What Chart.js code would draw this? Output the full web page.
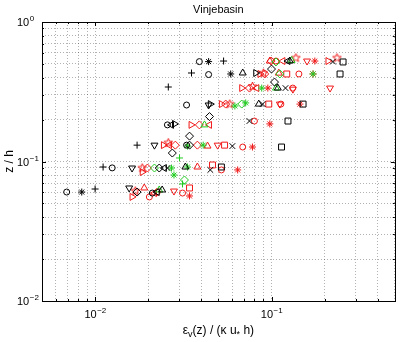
<!DOCTYPE html>
<html>
<head>
<meta charset="utf-8">
<script src="https://cdn.jsdelivr.net/npm/chart.js@4.4.0/dist/chart.umd.min.js"></script>
<style>
  html, body { margin: 0; padding: 0; background: #fff; }
  #wrap { width: 400px; height: 342px; }
</style>
</head>
<body>
<div id="wrap"><canvas id="c" width="400" height="342"></canvas></div>
<script>
// ---- text and axis limits ----
const titleText = 'Vinjebasin';
const xLimits = [0.005, 0.5];
const yLimits = [0.01, 1];
const xMajorTicks = [0.01, 0.1];
const yMajorTicks = [0.01, 0.1, 1];

// ---- measured profiles: [dissipation, z/h] ----
const blackCircle   = [[0.039,0.52],[0.044,0.42],[0.033,0.254],[0.0257,0.183],[0.033,0.131],[0.0125,0.09],[0.0069,0.0604],[0.0211,0.0594]];
const blackStar     = [[0.044,0.52],[0.0587,0.424],[0.0084,0.0604]];
const blackPlus     = [[0.0535,0.525],[0.0352,0.431],[0.026,0.342],[0.0173,0.131],[0.0111,0.0913],[0.01,0.0635]];
const blackTriDown  = [[0.044,0.254],[0.0217,0.131],[0.0162,0.0898],[0.0156,0.0646]];
const blackDiamond  = [[0.1,0.46],[0.104,0.371],[0.0445,0.21],[0.0343,0.152],[0.0274,0.115],[0.0343,0.131],[0.0231,0.0898],[0.0173,0.0604]];
const blackTriUp    = [[0.127,0.525],[0.0687,0.431],[0.1086,0.336],[0.0847,0.258],[0.0325,0.0913],[0.024,0.0625]];
const blackTriRight = [[0.0814,0.431],[0.0282,0.186],[0.045,0.258]];
const blackTriLeft  = [[0.124,0.525],[0.0271,0.183],[0.0247,0.0898],[0.0225,0.0604]];
const blackCross    = [[0.223,0.52],[0.12,0.336],[0.089,0.258],[0.075,0.195],[0.06,0.129],[0.045,0.087],[0.0257,0.0898]];
const blackSquare   = [[0.2545,0.517],[0.2447,0.424],[0.151,0.258],[0.124,0.195],[0.114,0.127],[0.052,0.0913]];

const redTriRight   = [[0.209,0.525],[0.086,0.424],[0.0678,0.336],[0.052,0.258],[0.035,0.183],[0.0244,0.131],[0.0185,0.084],[0.0162,0.0557]];
const redTriLeft    = [[0.116,0.525],[0.0825,0.336],[0.0445,0.183],[0.0264,0.131],[0.0217,0.0594]];
const redPentagram  = [[0.235,0.552],[0.1375,0.552],[0.09,0.43],[0.078,0.345],[0.058,0.258],[0.026,0.136],[0.0185,0.0898],[0.0169,0.0614]];
const redDiamond    = [[0.0995,0.525],[0.0915,0.424],[0.075,0.336],[0.055,0.258],[0.039,0.183],[0.0285,0.131],[0.038,0.131],[0.0198,0.0898],[0.0225,0.0604]];
const redCircle     = [[0.106,0.525],[0.143,0.424],[0.132,0.336],[0.113,0.258],[0.08,0.195],[0.0687,0.127],[0.052,0.087],[0.0313,0.0594],[0.0203,0.0557]];
const redTriUp      = [[0.0978,0.525],[0.11,0.43],[0.0434,0.129],[0.038,0.0913],[0.019,0.0646]];
const redTriDown    = [[0.159,0.525],[0.2147,0.336],[0.1322,0.33],[0.1115,0.258],[0.0495,0.131],[0.028,0.0614]];
const redSquare     = [[0.122,0.424],[0.0965,0.258],[0.0542,0.131],[0.0463,0.0944],[0.0343,0.0646]];
const redStar       = [[0.176,0.525],[0.172,0.424],[0.0953,0.336],[0.145,0.258],[0.0978,0.186],[0.078,0.127],[0.0643,0.087],[0.0343,0.0566]];

const greenStar     = [[0.172,0.424],[0.088,0.336],[0.0714,0.263],[0.062,0.25],[0.041,0.131],[0.0334,0.129],[0.0334,0.0913],[0.0271,0.0898],[0.028,0.08]];
const greenDiamond  = [[0.106,0.517],[0.1115,0.424],[0.0678,0.258],[0.0217,0.0898],[0.0321,0.0737]];
const greenTriUp    = [[0.13,0.53],[0.106,0.336],[0.0417,0.183],[0.0231,0.0625]];
const greenPlus     = [[0.0301,0.106],[0.0313,0.069]];

// ---- marker styling ----
const BLACK = '#000000';
const RED = '#f01818';
const GREEN = '#20cc20';

function pentagram(color, r) {
  const s = Math.ceil(r * 2 + 2);
  const c = document.createElement('canvas');
  c.width = s; c.height = s;
  const g = c.getContext('2d');
  g.strokeStyle = color;
  g.lineWidth = 1;
  g.beginPath();
  for (let i = 0; i < 10; i++) {
    const rr = i % 2 ? r * 0.42 : r;
    const a = -Math.PI / 2 + i * Math.PI / 5;
    const px = s / 2 + rr * Math.cos(a), py = s / 2 + rr * Math.sin(a);
    if (i) g.lineTo(px, py); else g.moveTo(px, py);
  }
  g.closePath();
  g.stroke();
  return c;
}

// [points, pointStyle, colour, rotation, radius]
const series = [
  [blackCircle, 'circle', BLACK, 0, 3],
  [blackStar, 'star', BLACK, 0, 3.5],
  [blackPlus, 'cross', BLACK, 0, 3.5],
  [blackTriDown, 'triangle', BLACK, 180, 4],
  [blackDiamond, 'rectRot', BLACK, 0, 4],
  [blackTriUp, 'triangle', BLACK, 0, 4],
  [blackTriRight, 'triangle', BLACK, 90, 4],
  [blackTriLeft, 'triangle', BLACK, -90, 4],
  [blackCross, 'crossRot', BLACK, 0, 4],
  [blackSquare, 'rect', BLACK, 0, 4.2],
  [greenStar, 'star', GREEN, 0, 3.5],
  [greenDiamond, 'rectRot', GREEN, 0, 4],
  [greenTriUp, 'triangle', GREEN, 0, 4],
  [greenPlus, 'cross', GREEN, 0, 3.5],
  [redTriRight, 'triangle', RED, 90, 4],
  [redTriLeft, 'triangle', RED, -90, 4],
  [redPentagram, pentagram(RED, 4.5), RED, 0, 4],
  [redDiamond, 'rectRot', RED, 0, 4],
  [redCircle, 'circle', RED, 0, 3],
  [redTriUp, 'triangle', RED, 0, 4],
  [redTriDown, 'triangle', RED, 180, 4],
  [redSquare, 'rect', RED, 0, 4.2],
  [redStar, 'star', RED, 0, 3.5]
];

const datasets = series.map(([pts, style, color, rot, r]) => ({
  data: pts.map(([x, y]) => ({ x, y })),
  showLine: false,
  pointStyle: style,
  pointRotation: rot,
  pointRadius: r,
  pointBorderWidth: 1,
  pointBorderColor: color,
  pointBackgroundColor: 'rgba(0,0,0,0)',
  pointHoverRadius: r
}));

// log ticks at 1..9 x 10^n inside the limits
function logTicks(lo, hi) {
  const out = [];
  for (let e = Math.floor(Math.log10(lo)); e <= Math.ceil(Math.log10(hi)); e++) {
    for (let m = 1; m <= 9; m++) {
      const v = +(m * Math.pow(10, e)).toPrecision(6);
      if (v >= lo * 0.9999 && v <= hi * 1.0001) out.push(v);
    }
  }
  return out;
}
const isMajor = (v, majors) => majors.some(m => Math.abs(v / m - 1) < 1e-6);

const GRID = 'rgba(0,0,0,0.3)';
const FONT = '"Liberation Sans", Arial, Helvetica, sans-serif';

const frame = {
  id: 'frame',
  afterDraw(chart) {
    const { ctx, chartArea: a, scales } = chart;
    const xs = scales.x, ys = scales.y;
    ctx.save();
    // tick marks pointing inwards on all four sides
    ctx.strokeStyle = '#000';
    ctx.lineWidth = 1;
    ctx.beginPath();
    xs.ticks.forEach(t => {
      const len = isMajor(t.value, xMajorTicks) ? 4 : 2;
      const px = Math.round(xs.getPixelForValue(t.value)) + 0.5;
      ctx.moveTo(px, a.bottom); ctx.lineTo(px, a.bottom - len);
      ctx.moveTo(px, a.top); ctx.lineTo(px, a.top + len);
    });
    ys.ticks.forEach(t => {
      const len = isMajor(t.value, yMajorTicks) ? 4 : 2;
      const py = Math.round(ys.getPixelForValue(t.value)) + 0.5;
      ctx.moveTo(a.left, py); ctx.lineTo(a.left + len, py);
      ctx.moveTo(a.right, py); ctx.lineTo(a.right - len, py);
    });
    ctx.stroke();
    // axes box
    ctx.strokeRect(Math.round(a.left) + 0.5, Math.round(a.top) + 0.5,
                   Math.round(a.right - a.left), Math.round(a.bottom - a.top));

    ctx.fillStyle = '#000';
    // power-of-ten labels with superscript exponents
    const drawPow = (v, x, y, align) => {
      const exp = String(Math.round(Math.log10(v))).replace('-', '\u2212');
      ctx.font = '11px ' + FONT;
      const wBase = ctx.measureText('10').width;
      ctx.font = '8px ' + FONT;
      const wExp = ctx.measureText(exp).width;
      let x0 = align === 'center' ? x - (wBase + wExp) / 2 : x;
      ctx.textAlign = 'left';
      ctx.textBaseline = 'alphabetic';
      ctx.font = '11px ' + FONT;
      ctx.fillText('10', x0, y);
      ctx.font = '8px ' + FONT;
      ctx.fillText(exp, x0 + wBase + 0.5, y - 5);
    };
    xMajorTicks.forEach(v => drawPow(v, xs.getPixelForValue(v), a.bottom + 17, 'center'));
    yMajorTicks.forEach(v => drawPow(v, 17, ys.getPixelForValue(v) + 4, 'left'));

    // title
    ctx.font = '11px ' + FONT;
    ctx.textAlign = 'center';
    ctx.fillText(titleText, (a.left + a.right) / 2, 13);

    // x-axis title with subscripts
    const parts = [
      ['\u03b5', 12, 0], ['v', 9, 3], ['(z) / (\u03ba u', 12, 0], ['*', 9, 3], [' h)', 12, 0]
    ];
    let total = 0;
    parts.forEach(p => { ctx.font = p[1] + 'px ' + FONT; p.push(ctx.measureText(p[0]).width); total += p[3]; });
    let cx = (a.left + a.right) / 2 - total / 2;
    ctx.textAlign = 'left';
    parts.forEach(p => {
      ctx.font = p[1] + 'px ' + FONT;
      ctx.fillText(p[0], cx, 334 + p[2]);
      cx += p[3];
    });

    // y-axis title
    ctx.translate(13, (a.top + a.bottom) / 2);
    ctx.rotate(-Math.PI / 2);
    ctx.font = '12px ' + FONT;
    ctx.textAlign = 'center';
    ctx.fillText('z / h', 0, 0);
    ctx.restore();
  }
};

new Chart(document.getElementById('c'), {
  type: 'scatter',
  data: { datasets },
  options: {
    responsive: false,
    animation: false,
    devicePixelRatio: 1,
    events: [],
    layout: { padding: { top: 22, right: 5, left: 0, bottom: 0 } },
    plugins: { legend: { display: false }, tooltip: { enabled: false }, title: { display: false } },
    scales: {
      x: {
        type: 'logarithmic',
        min: xLimits[0], max: xLimits[1],
        afterBuildTicks: s => { s.ticks = logTicks(xLimits[0], xLimits[1]).map(v => ({ value: v })); },
        afterFit: s => { s.height = 41; },
        ticks: { display: false, autoSkip: false },
        grid: { color: GRID, lineWidth: 1, drawTicks: false },
        border: { display: false, dash: [1, 2] }
      },
      y: {
        type: 'logarithmic',
        min: yLimits[0], max: yLimits[1],
        afterBuildTicks: s => { s.ticks = logTicks(yLimits[0], yLimits[1]).map(v => ({ value: v })); },
        afterFit: s => { s.width = 42; },
        ticks: { display: false, autoSkip: false },
        grid: { color: GRID, lineWidth: 1, drawTicks: false },
        border: { display: false, dash: [1, 2] }
      }
    }
  },
  plugins: [frame]
});
</script>
</body>
</html>
